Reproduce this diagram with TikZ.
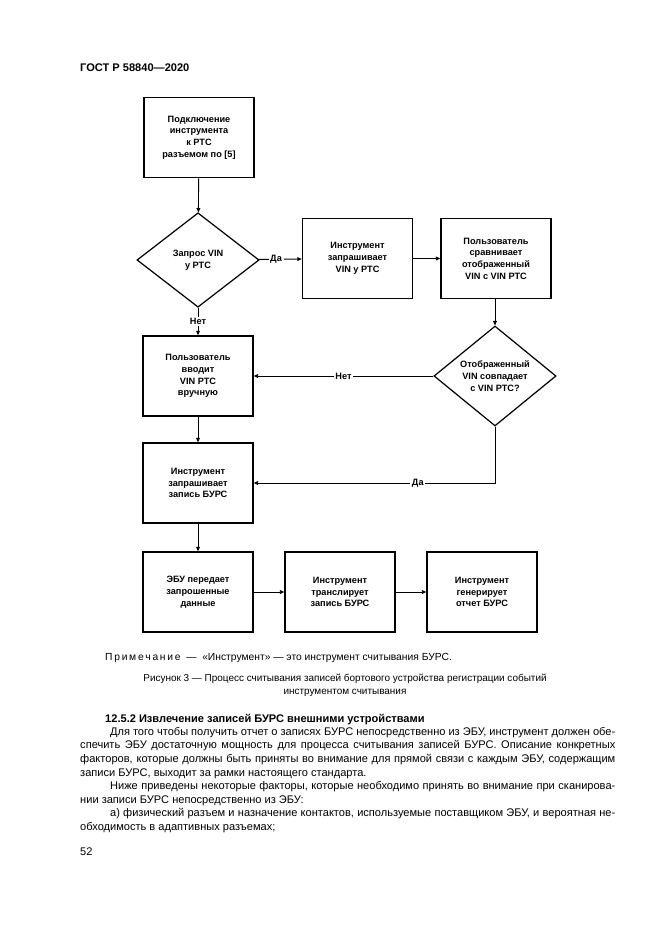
\documentclass[tikz,border=0pt]{standalone}
\usepackage{fontspec}
\setmainfont{Liberation Sans}
\usetikzlibrary{arrows.meta, shapes.geometric, positioning, calc}

\begin{document}
\begin{tikzpicture}[
  x=0.3177mm, y=-0.3177mm,
  box/.style={draw, rectangle, line width=1.2pt, minimum height=2.55cm,
              minimum width=3.5cm, align=center, font=\fontsize{8.3}{10.6}\selectfont\bfseries},
  dec/.style={draw, diamond, line width=1.1pt, minimum height=3cm, minimum width=3.88cm,
              inner sep=0pt, align=center, font=\fontsize{8.3}{10.6}\selectfont\bfseries},
  arr/.style={-{Triangle[length=4pt,width=3.5pt]}, line width=0.8pt},
  lbl/.style={fill=white, inner sep=1.5pt, font=\fontsize{8.3}{10}\selectfont\bfseries},
  bodytext/.style={inner sep=0pt, text width=17cm, align=justify,
                   font=\fontsize{10}{12.3}\selectfont}
]
  \fill[white] (0,0) rectangle (661,935);
  \useasboundingbox (0,0) rectangle (661,935);

  % page header
  \node[anchor=base west, inner sep=0pt, font=\fontsize{10}{12}\selectfont\bfseries] (head) at (80,72) {ГОСТ Р 58840—2020};

  % flowchart
  \node[box] (conn)   at (199,137.5) {Подключение\\инструмента\\к РТС\\разъемом по [5]};
  \node[dec] (askvin) at (198,260)   {Запрос VIN\\у РТС};
  \node[box] (reqvin) at (357.5,258.5) {Инструмент\\запрашивает\\VIN у РТС};
  \node[box] (cmpvin) at (496,258.5) {Пользователь\\сравнивает\\отображенный\\VIN с VIN РТС};
  \node[box] (manual) at (198,376)   {Пользователь\\вводит\\VIN РТС\\вручную};
  \node[dec] (match)  at (495,376)   {Отображенный\\VIN совпадает\\с VIN РТС?};
  \node[box] (reqrec) at (198,483)   {Инструмент\\запрашивает\\запись БУРС};
  \node[box] (ecu)    at (198,592)   {ЭБУ передает\\запрошенные\\данные};
  \node[box] (trans)  at (340,592)   {Инструмент\\транслирует\\запись БУРС};
  \node[box] (report) at (482,592)   {Инструмент\\генерирует\\отчет БУРС};

  \draw[arr] (conn)   -- (askvin);
  \draw[arr] (askvin) -- node[lbl, pos=0.4]{Да} (reqvin);
  \draw[arr] (reqvin) -- (cmpvin);
  \draw[arr] (cmpvin.south -| match.north) -- (match);
  \draw[arr] (askvin) -- node[lbl]{Нет} (manual);
  \draw[arr] (match)  -- node[lbl]{Нет} (manual);
  \draw[arr] (manual) -- (reqrec);
  \draw[arr] (match)  |- node[lbl, pos=0.66]{Да} (reqrec);
  \draw[arr] (reqrec) -- (ecu);
  \draw[arr] (ecu)    -- (trans);
  \draw[arr] (trans)  -- (report);

  % note and caption
  \node[anchor=base west, inner sep=0pt, font=\fontsize{9.3}{11}\selectfont] (note) at (105,660)
    {П\,р\,и\,м\,е\,ч\,а\,н\,и\,е \ — \ «Инструмент» — это инструмент считывания БУРС.};
  \node[anchor=north, inner sep=0pt, align=center, font=\fontsize{9}{11.7}\selectfont] (caption) at (345,674)
    {Рисунок 3 — Процесс считывания записей бортового устройства регистрации событий\\инструментом считывания};

  % section text
  \node[anchor=base west, inner sep=0pt, font=\fontsize{10}{12}\selectfont\bfseries] (sect) at (105,722)
    {12.5.2 Извлечение записей БУРС внешними устройствами};
  \node[bodytext, anchor=north west] (txt) at (80,727) {\hyphenpenalty=10000
    \hspace*{9.5mm}Для того чтобы получить отчет о записях БУРС непосредственно из ЭБУ, инструмент должен обе-\linebreak
    спечить ЭБУ достаточную мощность для процесса считывания записей БУРС. Описание конкретных\linebreak
    факторов, которые должны быть приняты во внимание для прямой связи с каждым ЭБУ, содержащим\linebreak
    записи БУРС, выходит за рамки настоящего стандарта.\par
    \hspace*{9.5mm}Ниже приведены некоторые факторы, которые необходимо принять во внимание при сканирова-\linebreak
    нии записи БУРС непосредственно из ЭБУ:\par
    \hspace*{9.5mm}а) физический разъем и назначение контактов, используемые поставщиком ЭБУ, и вероятная не-\linebreak
    обходимость в адаптивных разъемах;\par};

  % page number
  \node[anchor=base west, inner sep=0pt, font=\fontsize{10}{12}\selectfont] (page) at (80,855) {52};
\end{tikzpicture}
\end{document}
